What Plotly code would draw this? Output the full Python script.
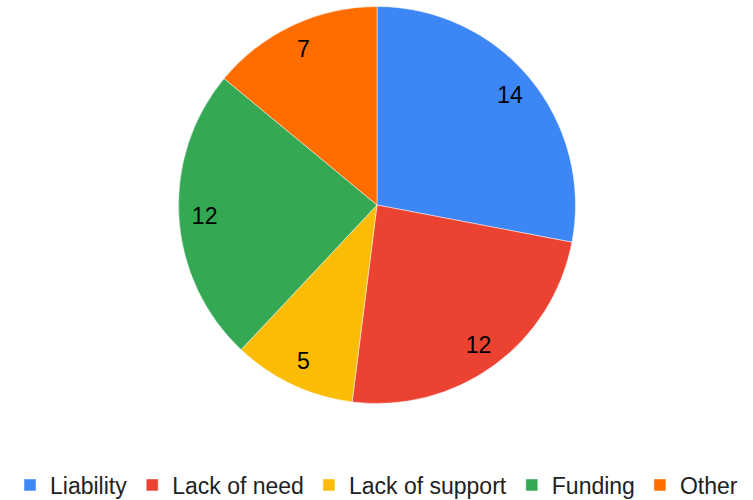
import plotly.graph_objects as go

labels = ["Liability", "Lack of need", "Lack of support", "Funding", "Other"]
values = [14, 12, 5, 12, 7]
colors = ["#3d86f5", "#ec4232", "#fbbc05", "#34a853", "#ff6d01"]

R = 198.5
cx, cy = 377, 205
W, H = 753, 500
dom = dict(x=[(cx - R) / W, (cx + R) / W], y=[1 - (cy + R) / H, 1 - (cy - R) / H])

fig = go.Figure()
fig.add_trace(go.Pie(
    labels=labels,
    values=values,
    sort=False,
    direction="clockwise",
    rotation=0,
    marker=dict(colors=colors, line=dict(color="white", width=0.5)),
    textinfo="none",
    domain=dom,
    hoverinfo="label+value",
))
# label ring: places value labels near the outer part of each slice
fig.add_trace(go.Pie(
    labels=labels,
    values=values,
    sort=False,
    direction="clockwise",
    rotation=0,
    hole=0.74,
    marker=dict(colors=["rgba(0,0,0,0)"] * len(values), line=dict(width=0)),
    textinfo="value",
    textposition="inside",
    insidetextorientation="horizontal",
    textfont=dict(family="Liberation Sans, Arial", size=23, color="black"),
    domain=dom,
    showlegend=False,
    hoverinfo="skip",
))

fig.update_layout(
    width=W, height=H,
    margin=dict(l=0, r=0, t=0, b=0, autoexpand=False),
    paper_bgcolor="white",
    plot_bgcolor="white",
    showlegend=True,
    legend=dict(
        orientation="h",
        x=0.5, xanchor="center",
        y=0.03, yanchor="middle",
        font=dict(family="Liberation Sans, Arial", size=23, color="#222222"),
        itemwidth=30,
    ),
)

fig.write_html("out.html", config={"displayModeBar": False},
               post_script="document.body.style.margin='0';")
